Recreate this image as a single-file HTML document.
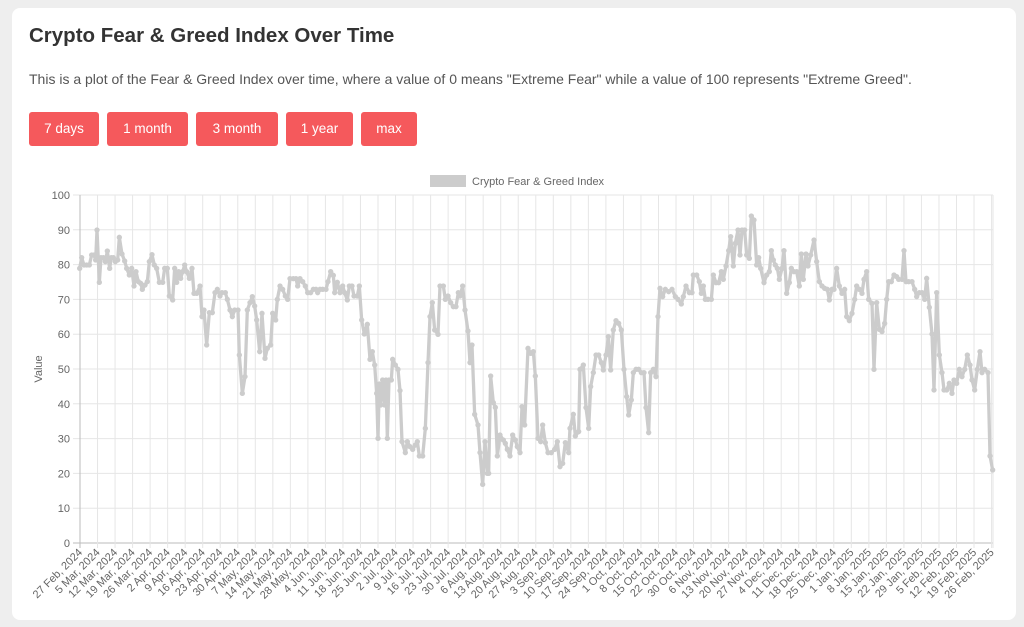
<!DOCTYPE html>
<html><head><meta charset="utf-8"><style>
body{margin:0;background:#eeeeee;width:1024px;height:627px;overflow:hidden;font-family:"Liberation Sans",sans-serif}
.card{position:absolute;left:12px;top:8px;width:1004px;height:612px;background:#fff;border-radius:8px}
h1{position:absolute;left:17px;top:16px;margin:0;font-size:20.5px;color:#333;font-weight:bold}
p{position:absolute;left:17px;top:63px;margin:0;font-size:14px;color:#555}
.b{position:absolute;top:104px;height:34px;background:#f5595c;color:#fff;border-radius:3px;font-size:13.5px;line-height:34px;text-align:center}
svg{position:absolute;left:0;top:0}
</style></head><body>
<div class="card">
<h1>Crypto Fear &amp; Greed Index Over Time</h1>
<p>This is a plot of the Fear &amp; Greed Index over time, where a value of 0 means "Extreme Fear" while a value of 100 represents "Extreme Greed".</p>
<div class="b" style="left:17px;width:70px">7 days</div>
<div class="b" style="left:95px;width:81px">1 month</div>
<div class="b" style="left:184px;width:82px">3 month</div>
<div class="b" style="left:274px;width:67px">1 year</div>
<div class="b" style="left:349px;width:56px">max</div>
</div>
<svg width="1024" height="627" id="s">
<rect x="430" y="175" width="36" height="12" fill="#cccccc"/>
<text x="472" y="185" font-size="11" fill="#666">Crypto Fear &amp; Greed Index</text>
<text transform="translate(42,369) rotate(-90)" font-size="11" fill="#666" text-anchor="middle">Value</text>
<g id="grid"></g>
<g fill="none" stroke="#cccccc" stroke-width="3.3" stroke-linejoin="round">
<polyline id="p1" transform="translate(30,180) scale(0.33333)" vector-effect="non-scaling-stroke" marker-mid="url(#m)" marker-start="url(#m)" points="149,265 155,233 162,255 170,255 178,255 185,225 192,225 197,240 201,150 208,307 213,233 220,233 226,245 232,213 239,265 244,233 250,233 256,245 263,240 268,172 276,222 284,243 290,265 298,285 305,265 312,318 318,275 325,305 332,310 337,328 345,315 352,305 358,245 366,224 373,255 380,265 388,307 398,307 404,265 412,265 418,348 428,360 434,265 440,307 446,275 452,295 458,275 464,255 470,275 478,295 486,265 492,340 500,340 510,318 516,410 522,390 530,495 538,398 547,398 555,338 562,328 570,348 576,338 586,338 592,358 600,390 607,410 614,390 624,390 628,525 637,640 645,590 652,390 660,368 667,350 674,378 680,420 689,515 696,400 705,535 712,505 722,495 728,400 737,420 742,358 750,318 758,328 766,348 773,358 780,296 790,296 798,296 803,318 810,296 818,305 826,318 833,338 842,338 850,328 858,328 863,338 870,328 878,328 888,328 894,305 902,275 910,286 914,338 922,307 930,338 938,318 944,338 952,360 958,318 966,318 972,348 982,348 988,318 995,420 1003,462 1012,433 1020,538 1027,515 1034,555 1040,640 1044,775 1048,612 1052,675 1058,600 1064,675 1068,600 1072,775 1077,600 1084,600 1088,538 1096,555 1104,568 1110,632 1116,785 1126,818 1132,785 1140,800 1148,808 1156,795 1162,785 1168,828 1178,828 1186,745 1194,548 1200,410 1207,368 1214,450 1224,463 1230,318 1240,318 1246,358 1254,348 1262,368 1270,380 1278,380 1285,338 1290,348 1298,318 1305,390 1314,453 1320,548 1326,495 1334,703 1344,735 1350,818 1358,913 1365,785 1372,880 1376,880 1382,588 1390,668 1396,682 1402,828 1410,765 1420,780 1426,790 1432,808 1440,828 1448,765 1456,780 1462,800 1470,818"/>
<polyline transform="translate(520,180) scale(0.33333)" vector-effect="non-scaling-stroke" marker-mid="url(#m)" marker-start="url(#m)" marker-end="url(#m)" points="0,818 6,680 14,735 24,505 32,520 40,515 46,588 54,775 62,785 68,735 76,788 84,818 94,818 104,808 112,785 120,860 128,850 136,788 146,818 150,745 160,703 166,768 176,755 180,568 190,555 198,683 206,745 212,620 220,578 228,525 236,525 244,548 250,570 258,525 265,470 272,570 280,450 288,422 296,430 304,450 312,568 320,650 326,705 334,660 340,578 348,568 356,568 364,578 372,578 378,683 386,758 392,578 400,568 408,590 414,410 420,325 428,350 436,328 446,335 456,328 466,350 474,358 484,372 490,350 498,318 508,338 516,338 520,285 530,285 538,305 544,340 550,318 556,358 564,358 574,358 580,285 588,308 596,308 604,275 610,298 618,258 626,212 632,170 640,258 646,190 654,150 660,225 666,150 674,150 680,225 688,235 694,108 702,120 710,255 716,233 722,265 732,308 740,285 748,275 754,212 760,240 766,255 772,265 778,298 786,265 792,212 800,340 808,308 814,265 822,275 830,275 838,318 844,222 850,298 858,222 864,258 872,225 882,180 890,245 898,305 906,318 914,325 922,328 928,360 936,328 942,328 950,265 958,318 966,340 974,328 980,410 988,422 996,400 1004,358 1010,318 1018,328 1026,340 1032,298 1040,275 1046,358 1056,370 1062,568 1070,368 1078,448 1086,455 1094,430 1100,358 1106,305 1114,305 1122,285 1130,290 1136,298 1146,298 1152,212 1158,305 1166,305 1176,305 1184,328 1190,350 1198,338 1206,338 1214,358 1220,295 1228,382 1236,462 1242,630 1250,338 1258,525 1266,578 1272,630 1280,630 1288,610 1296,640 1302,600 1310,610 1318,568 1326,590 1334,568 1342,525 1350,555 1356,600 1364,630 1372,568 1380,515 1386,578 1394,568 1404,578 1410,828 1418,870"/>
</g>
<defs><marker id="m" markerUnits="userSpaceOnUse" viewBox="-9 -9 18 18" markerWidth="18" markerHeight="18" refX="0" refY="0"><circle r="8" fill="#cccccc"/></marker></defs>
</svg>
<script>
var g=document.getElementById('grid'),h='';
for(var i=0;i<=10;i++){var y=543-i*34.8;h+='<line x1="73" x2="993" y1="'+y+'" y2="'+y+'" stroke="'+(i==0?'#bbb':'#e6e6e6')+'"/>';h+='<text x="70" y="'+(y+4)+'" font-size="11" fill="#666" text-anchor="end">'+(i*10)+'</text>';}
var L=['27 Feb','5 Mar','12 Mar','19 Mar','26 Mar','2 Apr','9 Apr','16 Apr','23 Apr','30 Apr','7 May','14 May','21 May','28 May','4 Jun','11 Jun','18 Jun','25 Jun','2 Jul','9 Jul','16 Jul','23 Jul','30 Jul','6 Aug','13 Aug','20 Aug','27 Aug','3 Sep','10 Sep','17 Sep','24 Sep','1 Oct','8 Oct','15 Oct','22 Oct','30 Oct','6 Nov','13 Nov','20 Nov','27 Nov','4 Dec','11 Dec','18 Dec','25 Dec','1 Jan','8 Jan','15 Jan','22 Jan','29 Jan','5 Feb','12 Feb','19 Feb','26 Feb'];
for(var i=0;i<53;i++){var x=80+i*17.53;h+='<line x1="'+x+'" x2="'+x+'" y1="195" y2="548" stroke="'+(i==0?'#bbb':'#e6e6e6')+'"/>';h+='<text transform="translate('+(x+3)+',553) rotate(-45)" font-size="11" fill="#666" text-anchor="end">'+L[i]+', '+(i<44?'2024':'2025')+'</text>';}
h+='<line x1="993" x2="993" y1="195" y2="548" stroke="#e6e6e6"/>';
g.innerHTML=h;
</script>
</body></html>
